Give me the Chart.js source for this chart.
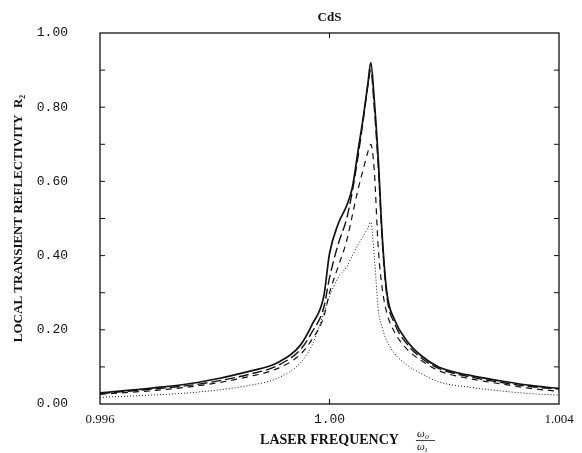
<!DOCTYPE html>
<html lang="en">
<head>
<meta charset="UTF-8">
<title>CdS - Local Transient Reflectivity</title>
<script src="https://cdn.jsdelivr.net/npm/chart.js"></script>
<style>
    html, body {
        margin: 0;
        padding: 0;
        background: #fff;
    }
    #wrap {
        width: 582px;
        height: 453px;
        position: relative;
    }
</style>
</head>
<body>
<div id="wrap"><canvas id="cdsChart"></canvas></div>

<script>
    // laser frequency omega_o / omega_l
    const freq = [0.9960, 0.9969, 0.9977, 0.9986, 0.9991, 0.9995, 0.9997, 0.9999, 1.0000, 1.00015,
                  1.0003, 1.0004, 1.0005, 1.0006, 1.00067, 1.00072, 1.00078, 1.00085, 1.00092, 1.0010,
                  1.00114, 1.00135, 1.0016, 1.0019, 1.00245, 1.0030, 1.0035, 1.0040];

    // R2 curves
    const solidR = [0.030, 0.043, 0.058, 0.088, 0.112, 0.160, 0.215, 0.290, 0.405, 0.485,
                    0.535, 0.585, 0.685, 0.785, 0.865, 0.920, 0.820, 0.660, 0.450, 0.300,
                    0.225, 0.170, 0.130, 0.100, 0.077, 0.062, 0.050, 0.042];
    const longDashR = [0.028, 0.040, 0.053, 0.080, 0.104, 0.148, 0.195, 0.260, 0.340, 0.430,
                       0.500, 0.575, 0.670, 0.780, 0.860, 0.900, 0.800, 0.640, 0.440, 0.290,
                       0.215, 0.162, 0.124, 0.096, 0.073, 0.058, 0.047, 0.040];
    const dashR = [0.026, 0.036, 0.049, 0.074, 0.096, 0.135, 0.175, 0.235, 0.300, 0.370,
                   0.440, 0.510, 0.580, 0.640, 0.680, 0.700, 0.630, 0.420, 0.310, 0.245,
                   0.192, 0.148, 0.117, 0.090, 0.068, 0.054, 0.042, 0.034];
    const dottedR = [0.018, 0.024, 0.032, 0.050, 0.070, 0.112, 0.160, 0.245, 0.290, 0.340,
                     0.370, 0.400, 0.430, 0.455, 0.475, 0.490, 0.400, 0.255, 0.205, 0.170,
                     0.135, 0.105, 0.082, 0.060, 0.045, 0.035, 0.028, 0.024];

    const xTickValues = [0.996, 1.0, 1.004];
    const xTickLabels = ['0.996', '1.00', '1.004'];
    const xInnerTicks = [1.0];
    const yMinorTicks = [0.1, 0.2, 0.3, 0.4, 0.5, 0.6, 0.7, 0.8, 0.9];

    const chartTitle = 'CdS';
    const xTitle = 'LASER FREQUENCY';
    const yTitle = 'LOCAL TRANSIENT REFLECTIVITY  R\u2082';

    const ink = '#111';
    const serif = '"Liberation Serif", "DejaVu Serif", serif';
    const mono = '"Liberation Mono", "DejaVu Sans Mono", monospace';

    function toPoints(values) {
        return freq.map((f, i) => ({ x: f, y: values[i] }));
    }

    function line(ctx, x1, y1, x2, y2) {
        ctx.beginPath();
        ctx.moveTo(x1, y1);
        ctx.lineTo(x2, y2);
        ctx.stroke();
    }

    // box, inner ticks, title and the omega fraction
    const framePlugin = {
        id: 'frame',
        afterDraw(chart) {
            const { ctx, chartArea: a, scales: { x, y } } = chart;
            ctx.save();
            ctx.strokeStyle = ink;
            ctx.lineWidth = 1.3;
            ctx.strokeRect(a.left, a.top, a.right - a.left, a.bottom - a.top);

            ctx.lineWidth = 1;
            yMinorTicks.forEach(v => {
                const py = y.getPixelForValue(v);
                line(ctx, a.left, py, a.left + 5, py);
                line(ctx, a.right, py, a.right - 5, py);
            });
            xInnerTicks.forEach(v => {
                const px = x.getPixelForValue(v);
                line(ctx, px, a.bottom, px, a.bottom - 5);
                line(ctx, px, a.top, px, a.top + 5);
            });

            ctx.fillStyle = ink;
            ctx.textAlign = 'center';
            ctx.textBaseline = 'middle';
            ctx.font = 'bold 13px ' + serif;
            const cx = (a.left + a.right) / 2;
            ctx.fillText(chartTitle, cx, 18);

            // omega_o / omega_l next to the x title
            ctx.font = 'bold 14px ' + serif;
            const w = ctx.measureText(xTitle).width;
            const fx = cx + w / 2 + 18;
            ctx.textAlign = 'left';
            ctx.font = 'italic 11px ' + serif;
            ctx.fillText('\u03c9', fx, 434);
            ctx.fillText('\u03c9', fx, 447);
            ctx.font = 'italic 8px ' + serif;
            ctx.fillText('o', fx + 8, 437);
            ctx.fillText('\u03b9', fx + 8, 450);
            ctx.lineWidth = 0.8;
            line(ctx, fx - 1, 440.5, fx + 18, 440.5);
            ctx.restore();
        }
    };

    function makeDataset(label, values, width, dash) {
        return {
            label: label,
            data: toPoints(values),
            borderColor: ink,
            borderWidth: width,
            borderDash: dash,
            fill: false,
            pointRadius: 0,
            cubicInterpolationMode: 'monotone'
        };
    }

    const ctx = document.getElementById('cdsChart').getContext('2d');
    new Chart(ctx, {
        type: 'line',
        data: {
            datasets: [
                makeDataset('solid', solidR, 1.7, []),
                makeDataset('long dash', longDashR, 1.4, [10, 4]),
                makeDataset('dash', dashR, 1.2, [6, 5]),
                makeDataset('dotted', dottedR, 1.0, [1, 2])
            ]
        },
        options: {
            responsive: true,
            maintainAspectRatio: false,
            animation: false,
            layout: { padding: { left: 0, right: 23, top: 33, bottom: 0 } },
            plugins: {
                legend: { display: false },
                tooltip: { enabled: false }
            },
            scales: {
                x: {
                    type: 'linear',
                    min: 0.996,
                    max: 1.004,
                    grid: { display: false, drawTicks: false },
                    border: { display: false },
                    afterBuildTicks: scale => {
                        scale.ticks = xTickValues.map(v => ({ value: v }));
                    },
                    afterFit: scale => {
                        scale.height = 49;
                        scale.paddingLeft = 0;
                        scale.paddingRight = 0;
                    },
                    ticks: {
                        autoSkip: false,
                        maxRotation: 0,
                        padding: 8,
                        color: ink,
                        font: c => (c.tick && c.tick.value === 1)
                            ? { family: mono, size: 13 }
                            : { family: serif, size: 13 },
                        callback: (value, index) => xTickLabels[index]
                    },
                    title: {
                        display: true,
                        text: xTitle,
                        color: ink,
                        font: { family: serif, size: 14, weight: 'bold' },
                        padding: { top: 0, bottom: 4 }
                    }
                },
                y: {
                    min: 0,
                    max: 1,
                    grid: { display: false, drawTicks: false },
                    border: { display: false },
                    afterFit: scale => {
                        scale.width = 100;
                        scale.paddingTop = 0;
                        scale.paddingBottom = 0;
                    },
                    ticks: {
                        stepSize: 0.2,
                        padding: 32,
                        color: ink,
                        font: { family: mono, size: 13 },
                        callback: value => value.toFixed(2)
                    },
                    title: {
                        display: true,
                        text: yTitle,
                        color: ink,
                        font: { family: serif, size: 13, weight: 'bold' },
                        padding: { top: 11, bottom: 0 }
                    }
                }
            }
        },
        plugins: [framePlugin]
    });
</script>
</body>
</html>
